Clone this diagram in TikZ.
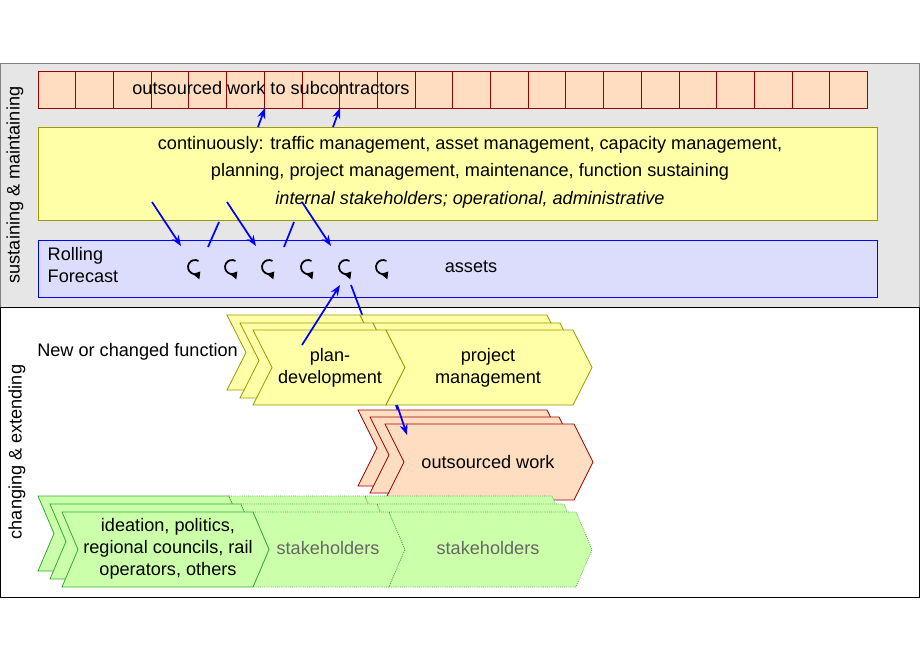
\documentclass[tikz,border=0pt]{standalone}
\usepackage{fontspec}
\setmainfont{Liberation Sans}
\usetikzlibrary{arrows.meta}
\definecolor{bandgray}{HTML}{E6E6E6}
\definecolor{cellfill}{HTML}{FFDDC0}
\definecolor{cellline}{HTML}{990000}
\definecolor{yfill}{HTML}{FFFFA8}
\definecolor{yline}{HTML}{999900}
\definecolor{bfill}{HTML}{DCDCFC}
\definecolor{gfill}{HTML}{CCFFAA}
\definecolor{gline}{HTML}{33AA33}
\newcommand{\chv}[6]{% style, x1, x2, ytop, ybot, depth
  \path[#1] (#2,#4) -- (#3,#4) -- ({#3+#6},{(#4+#5)/2}) -- (#3,#5) -- (#2,#5) -- ({#2+#6},{(#4+#5)/2}) -- cycle;}
\newcommand{\cyc}[2]{\draw[line width=1.3pt,-{Triangle[length=5pt,width=6pt]}] ({#1+3.5},{#2-6.06}) arc[start angle=-60,end angle=-320,radius=7];}
\begin{document}
\begin{tikzpicture}[x=0.75pt,y=-0.75pt,
  txt/.style={font=\fontsize{13.6}{16.5}\selectfont,align=center,inner sep=0pt},
  blue arrow/.style={draw=blue,line width=1.3pt,-{Stealth[length=8pt,width=6pt]}},
  blue line/.style={draw=blue,line width=1.3pt},
  yel/.style={fill=yfill,draw=yline,line width=0.6pt},
  red/.style={fill=cellfill,draw=cellline,line width=0.6pt},
  grn/.style={fill=gfill,draw=gline,line width=0.6pt},
  grnd/.style={fill=gfill,draw=gline,line width=0.6pt,densely dotted}]
\useasboundingbox (0,0) rectangle (920,660);
% bands
\path[fill=bandgray,draw=gray] (0,63) rectangle (919,307);
\path[draw=black] (0,307) rectangle (919,597);
\node[txt,rotate=90] (lab1) at (15,185) {sustaining \& maintaining};
\node[txt,rotate=90] (lab2) at (17,452) {changing \& extending};
% subcontractor cells
\foreach \i in {0,...,21} {\path[red] ({38+\i*37.7},71) rectangle ({38+(\i+1)*37.7},108);}
\node[txt] (sub) at (271,88) {outsourced work to subcontractors};
% continuous box
\path[yel] (38,127) rectangle (877,220);
\node[txt] (c1) at (470,145) {continuously: traffic management, asset management, capacity management,};
\node[txt] (c2) at (470,172) {planning, project management, maintenance, function sustaining};
\node[txt] (c3) at (470,200) {\itshape internal stakeholders; operational, administrative};
% rolling forecast box
\path[fill=bfill,draw=blue,line width=0.6pt] (38,240) rectangle (877,297);
\node[txt,align=left] (rf) at (83,265) {Rolling\\Forecast};
\node[txt] (assets) at (471,267) {assets};
\foreach \x in {195,232,269,308,346,383} {\cyc{\x}{267}}
% arrows top
\coordinate (a1s) at (152,202); \coordinate (a1e) at (181,246);
\coordinate (a2s) at (227,202); \coordinate (a2e) at (256,246);
\coordinate (a3s) at (302,202); \coordinate (a3e) at (331,246);
\draw[blue arrow] (a1s) -- (a1e);
\draw[blue arrow] (a2s) -- (a2e);
\draw[blue arrow] (a3s) -- (a3e);
\coordinate (l1s) at (208,247); \coordinate (l1e) at (219,222);
\coordinate (l2s) at (284,247); \coordinate (l2e) at (294,222);
\draw[blue line] (l1s) -- (l1e);
\draw[blue line] (l2s) -- (l2e);
\coordinate (u1s) at (258,127); \coordinate (u1e) at (265,108);
\coordinate (u2s) at (333,127); \coordinate (u2e) at (340,108);
\draw[blue arrow] (u1s) -- (u1e);
\draw[blue arrow] (u2s) -- (u2e);
% changing part
\node[txt,anchor=west] (ncf) at (37,352) {New or changed function};
\coordinate (d1s) at (351,285); \coordinate (d1e) at (407,435);
\draw[blue line] (d1s) -- (d1e);
% yellow chevrons
\foreach \dx/\dy in {-26/-15,-13/-7} {
  \chv{yel}{253+\dx}{386+\dx}{330+\dy}{405+\dy}{19}
  \chv{yel}{386+\dx}{573+\dx}{330+\dy}{405+\dy}{19}}
\chv{yel}{253}{386}{330}{405}{19}
\chv{yel}{386}{573}{330}{405}{19}
\node[txt] (plan) at (330,368) {plan-\\development};
\node[txt] (pm) at (488,368) {project\\management};
% red chevrons
\foreach \dx/\dy in {-27/-14,-15/-7} {\chv{red}{385+\dx}{574+\dx}{424+\dy}{500+\dy}{19}}
\chv{red}{385}{574}{424}{500}{19}
\node[txt] (ow) at (488,462) {outsourced work};
% arrows middle
\coordinate (p1s) at (302,345); \coordinate (p1e) at (340,285);
\draw[blue arrow] (p1s) -- (p1e);
\coordinate (d2s) at (397,405);
\draw[blue arrow] (d2s) -- (d1e);
% green chevrons
\foreach \dx/\dy in {-24/-16,-12/-8} {
  \chv{grn}{62+\dx}{253+\dx}{512+\dy}{587+\dy}{16}
  \chv{grnd}{253+\dx}{389+\dx}{512+\dy}{587+\dy}{16}
  \chv{grnd}{389+\dx}{576+\dx}{512+\dy}{587+\dy}{16}}
\chv{grnd}{253}{389}{512}{587}{16}
\chv{grnd}{389}{576}{512}{587}{16}
\chv{grn}{62}{253}{512}{587}{16}
\node[txt] (ide) at (168,549) {ideation, politics,\\regional councils, rail\\operators, others};
\node[txt,text=black!60] (st1) at (328,548) {stakeholders};
\node[txt,text=black!60] (st2) at (488,548) {stakeholders};
\end{tikzpicture}
\end{document}
